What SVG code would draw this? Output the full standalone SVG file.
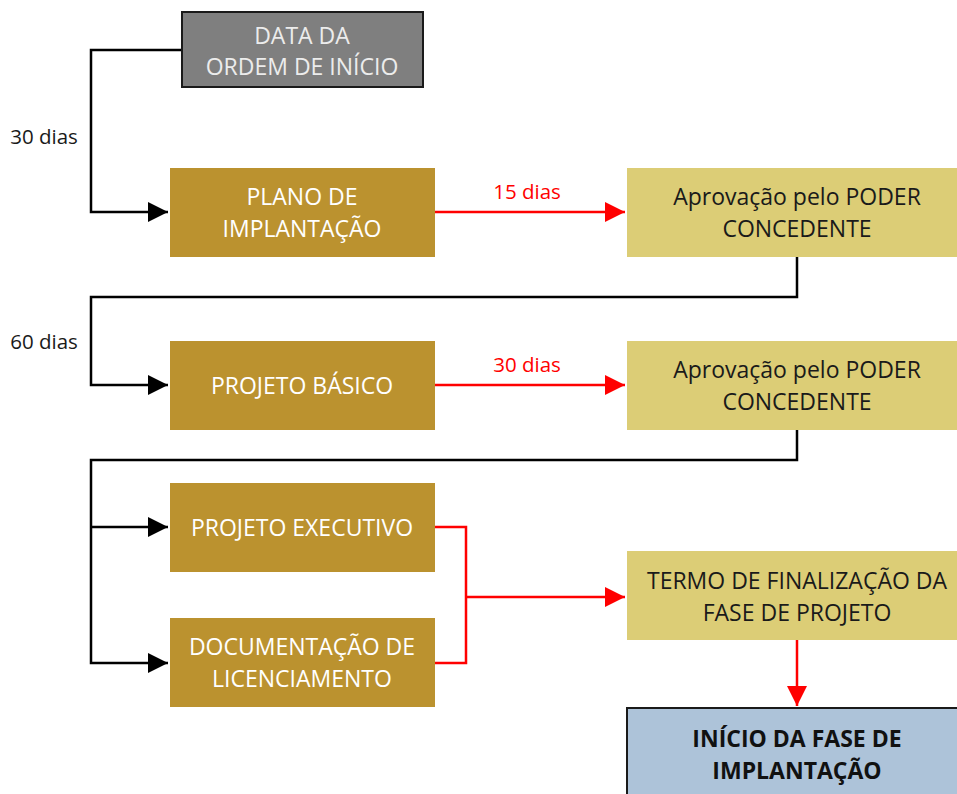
<svg xmlns="http://www.w3.org/2000/svg" width="957" height="794" viewBox="0 0 957 794">
<defs>
<marker id="ab" viewBox="0 0 10 10" refX="10" refY="5" markerWidth="20" markerHeight="20" markerUnits="userSpaceOnUse" orient="auto"><path d="M0,0 L10,5 L0,10 Z" fill="#000"/></marker>
<marker id="ar" viewBox="0 0 10 10" refX="10" refY="5" markerWidth="20" markerHeight="20" markerUnits="userSpaceOnUse" orient="auto"><path d="M0,0 L10,5 L0,10 Z" fill="#ff0000"/></marker>
<style>
text{font-family:"Open Sans","Liberation Sans",sans-serif;font-size:23px;text-anchor:middle;dominant-baseline:central}
.gold rect{fill:#bb922f}
.gold text{fill:#ffffff}
.tan rect{fill:#dccd76}
.tan text{fill:#1a1a1a}
.blk{fill:none;stroke:#000;stroke-width:2.5}
.red{fill:none;stroke:#ff0000;stroke-width:2.5}
.lbl{fill:#1a1a1a;font-size:20.5px}
.rlbl{fill:#ff0000;font-size:20.5px}
</style>
</defs>
<g id="connectors">
<path class="blk" d="M182,50 H91 V212 H168" marker-end="url(#ab)"/>
<path class="red" d="M435,212 H625" marker-end="url(#ar)"/>
<path class="blk" d="M797,257 V297 H91 V385 H168" marker-end="url(#ab)"/>
<path class="red" d="M435,385 H625" marker-end="url(#ar)"/>
<path class="blk" d="M797,430 V460 H91 V663 H168" marker-end="url(#ab)"/>
<path class="blk" d="M91,527 H168" marker-end="url(#ab)"/>
<path class="red" d="M435,527 H466 V663 H435"/>
<path class="red" d="M466,597 H625" marker-end="url(#ar)"/>
<path class="red" d="M797,640 V706" marker-end="url(#ar)"/>
<text class="lbl" x="44" y="136">30 dias</text>
<text class="lbl" x="44" y="341">60 dias</text>
<text class="rlbl" x="527" y="191">15 dias</text>
<text class="rlbl" x="527" y="364">30 dias</text>
</g>
<g id="data-ordem">
<rect x="182" y="12" width="241" height="75" fill="#7f7f7f" stroke="#1a1a1a" stroke-width="2"/>
<text x="302" y="35" fill="#ececec">DATA DA</text>
<text x="302" y="66" fill="#ececec">ORDEM DE INÍCIO</text>
</g>
<g id="plano" class="gold">
<rect x="170" y="168" width="265" height="89"/>
<text x="302" y="196">PLANO DE</text>
<text x="302" y="228">IMPLANTAÇÃO</text>
</g>
<g id="aprov1" class="tan">
<rect x="627" y="168" width="330" height="89"/>
<text x="797" y="196">Aprovação pelo PODER</text>
<text x="797" y="228">CONCEDENTE</text>
</g>
<g id="basico" class="gold">
<rect x="170" y="341" width="265" height="89"/>
<text x="302" y="385">PROJETO BÁSICO</text>
</g>
<g id="aprov2" class="tan">
<rect x="627" y="341" width="330" height="89"/>
<text x="797" y="369">Aprovação pelo PODER</text>
<text x="797" y="401">CONCEDENTE</text>
</g>
<g id="executivo" class="gold">
<rect x="170" y="483" width="265" height="89"/>
<text x="302" y="527">PROJETO EXECUTIVO</text>
</g>
<g id="licenciamento" class="gold">
<rect x="170" y="618" width="265" height="89"/>
<text x="302" y="646">DOCUMENTAÇÃO DE</text>
<text x="302" y="678">LICENCIAMENTO</text>
</g>
<g id="termo" class="tan">
<rect x="627" y="551" width="330" height="89"/>
<text x="797" y="580">TERMO DE FINALIZAÇÃO DA</text>
<text x="797" y="612">FASE DE PROJETO</text>
</g>
<g id="inicio">
<rect x="627" y="708" width="340" height="100" fill="#adc3d9" stroke="#1a1a1a" stroke-width="2"/>
<text x="797" y="738" fill="#111" font-weight="bold" font-size="22px">INÍCIO DA FASE DE</text>
<text x="797" y="770" fill="#111" font-weight="bold" font-size="22px">IMPLANTAÇÃO</text>
</g>
</svg>
